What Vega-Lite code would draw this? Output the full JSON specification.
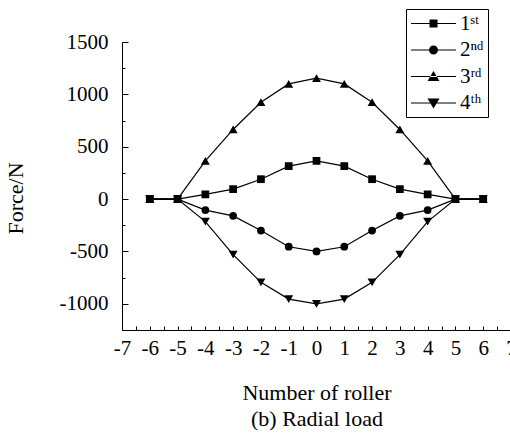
{
  "$schema": "https://vega.github.io/schema/vega-lite/v6.json",
  "width": 389,
  "height": 288,
  "autosize": {"type": "none"},
  "padding": {"left": 122, "top": 42, "right": 0, "bottom": 108},
  "background": "white",
  "config": {
    "view": {"stroke": null},
    "font": "Liberation Serif",
    "axis": {"domainColor": "black", "tickColor": "black", "labelColor": "black", "titleColor": "black", "labelFont": "Liberation Serif", "titleFont": "Liberation Serif", "labelFontSize": 21, "titleFontSize": 22, "titleFontWeight": "normal", "grid": false, "domainWidth": 1, "tickWidth": 1},
    "legend": {"labelFont": "Liberation Serif", "labelFontSize": 21, "labelColor": "black"}
  },
  "data": {"values": [
    {"series": "1ˢᵗ", "x": -6, "y": 0}, {"series": "1ˢᵗ", "x": -5, "y": 0}, {"series": "1ˢᵗ", "x": -4, "y": 45}, {"series": "1ˢᵗ", "x": -3, "y": 95}, {"series": "1ˢᵗ", "x": -2, "y": 190}, {"series": "1ˢᵗ", "x": -1, "y": 315}, {"series": "1ˢᵗ", "x": 0, "y": 365}, {"series": "1ˢᵗ", "x": 1, "y": 315}, {"series": "1ˢᵗ", "x": 2, "y": 190}, {"series": "1ˢᵗ", "x": 3, "y": 95}, {"series": "1ˢᵗ", "x": 4, "y": 45}, {"series": "1ˢᵗ", "x": 5, "y": 0}, {"series": "1ˢᵗ", "x": 6, "y": 0},
    {"series": "2ⁿᵈ", "x": -6, "y": 0}, {"series": "2ⁿᵈ", "x": -5, "y": 0}, {"series": "2ⁿᵈ", "x": -4, "y": -105}, {"series": "2ⁿᵈ", "x": -3, "y": -160}, {"series": "2ⁿᵈ", "x": -2, "y": -300}, {"series": "2ⁿᵈ", "x": -1, "y": -455}, {"series": "2ⁿᵈ", "x": 0, "y": -500}, {"series": "2ⁿᵈ", "x": 1, "y": -455}, {"series": "2ⁿᵈ", "x": 2, "y": -300}, {"series": "2ⁿᵈ", "x": 3, "y": -160}, {"series": "2ⁿᵈ", "x": 4, "y": -105}, {"series": "2ⁿᵈ", "x": 5, "y": 0}, {"series": "2ⁿᵈ", "x": 6, "y": 0},
    {"series": "3ʳᵈ", "x": -6, "y": 0}, {"series": "3ʳᵈ", "x": -5, "y": 0}, {"series": "3ʳᵈ", "x": -4, "y": 365}, {"series": "3ʳᵈ", "x": -3, "y": 665}, {"series": "3ʳᵈ", "x": -2, "y": 925}, {"series": "3ʳᵈ", "x": -1, "y": 1100}, {"series": "3ʳᵈ", "x": 0, "y": 1155}, {"series": "3ʳᵈ", "x": 1, "y": 1100}, {"series": "3ʳᵈ", "x": 2, "y": 925}, {"series": "3ʳᵈ", "x": 3, "y": 665}, {"series": "3ʳᵈ", "x": 4, "y": 365}, {"series": "3ʳᵈ", "x": 5, "y": 0}, {"series": "3ʳᵈ", "x": 6, "y": 0},
    {"series": "4ᵗʰ", "x": -6, "y": 0}, {"series": "4ᵗʰ", "x": -5, "y": 0}, {"series": "4ᵗʰ", "x": -4, "y": -215}, {"series": "4ᵗʰ", "x": -3, "y": -530}, {"series": "4ᵗʰ", "x": -2, "y": -795}, {"series": "4ᵗʰ", "x": -1, "y": -955}, {"series": "4ᵗʰ", "x": 0, "y": -1000}, {"series": "4ᵗʰ", "x": 1, "y": -955}, {"series": "4ᵗʰ", "x": 2, "y": -795}, {"series": "4ᵗʰ", "x": 3, "y": -530}, {"series": "4ᵗʰ", "x": 4, "y": -215}, {"series": "4ᵗʰ", "x": 5, "y": 0}, {"series": "4ᵗʰ", "x": 6, "y": 0}
  ]},
  "encoding": {
    "x": {"field": "x", "type": "quantitative", "scale": {"domain": [-7, 7], "nice": false, "zero": false},
      "axis": {"values": [-7, -6.5, -6, -5.5, -5, -4.5, -4, -3.5, -3, -2.5, -2, -1.5, -1, -0.5, 0, 0.5, 1, 1.5, 2, 2.5, 3, 3.5, 4, 4.5, 5, 5.5, 6, 6.5, 7],
        "labelExpr": "datum.value % 1 == 0 ? (datum.value < 0 ? '-' + abs(datum.value) : '' + datum.value) : ''",
        "labelOverlap": false, "labelBound": false, "labelFlush": false,
        "labelFont": "Liberation Serif", "labelFontSize": 21,
        "tickSize": -4, "labelPadding": 11,
        "title": ["Number of roller", "(b) Radial load"], "titleFont": "Liberation Serif", "titleFontSize": 22, "titleLineHeight": 26, "titlePadding": 24}},
    "y": {"field": "y", "type": "quantitative", "scale": {"domain": [-1250, 1500], "nice": false, "zero": false},
      "axis": {"values": [-1250, -1000, -750, -500, -250, 0, 250, 500, 750, 1000, 1250, 1500],
        "labelExpr": "datum.value % 500 == 0 ? (datum.value < 0 ? '-' + abs(datum.value) : '' + datum.value) : ''",
        "labelOverlap": false, "labelBound": false, "labelFlush": false,
        "labelFont": "Liberation Serif", "labelFontSize": 21,
        "tickSize": {"condition": {"test": "datum.value % 500 == 0", "value": -6}, "value": -3},
        "labelPadding": 20,
        "title": "Force/N", "titleFont": "Liberation Serif", "titleFontSize": 22, "titlePadding": 32, "titleY": 156}}
  },
  "layer": [
    {"mark": {"type": "line", "color": "black", "strokeWidth": 1.2},
     "encoding": {"detail": {"field": "series"}}},
    {"transform": [{"filter": "datum.series == '1ˢᵗ'"}],
     "mark": {"type": "point", "filled": true, "color": "black", "opacity": 1, "size": 60, "shape": "square"}},
    {"transform": [{"filter": "datum.series == '2ⁿᵈ'"}],
     "mark": {"type": "point", "filled": true, "color": "black", "opacity": 1, "size": 60, "shape": "circle"}},
    {"transform": [{"filter": "datum.series == '3ʳᵈ'"}],
     "mark": {"type": "point", "filled": true, "color": "black", "opacity": 1, "size": 80, "shape": "triangle-up"}},
    {"transform": [{"filter": "datum.series == '4ᵗʰ'"}],
     "mark": {"type": "point", "filled": true, "color": "black", "opacity": 1, "size": 80, "shape": "triangle-down"}},
    {"mark": {"type": "point", "filled": true, "color": "black", "opacity": 0, "size": 100},
     "encoding": {"shape": {"field": "series", "type": "nominal",
       "scale": {"range": [
         "M-4.5,-0.12H4.5V0.12H-4.5ZM-0.8,-0.8H0.8V0.8H-0.8Z",
         "M-4.5,-0.12H4.5V0.12H-4.5ZM0.9,0A0.9,0.9 0 1,1 -0.9,0A0.9,0.9 0 1,1 0.9,0Z",
         "M-4.5,-0.12H4.5V0.12H-4.5ZM-1.2,0.9L1.2,0.9L0,-1.1Z",
         "M-4.5,-0.12H4.5V0.12H-4.5ZM-1.2,-0.9L1.2,-0.9L0,1.1Z"]},
       "legend": {"title": null, "orient": "none", "legendX": 284, "legendY": -33,
         "padding": 4, "strokeColor": "black", "fillColor": "white",
         "symbolOpacity": 1, "symbolFillColor": "black", "symbolSize": 100,
         "symbolOffset": 13, "labelOffset": 16, "rowPadding": 4.5}}}}
  ]
}
